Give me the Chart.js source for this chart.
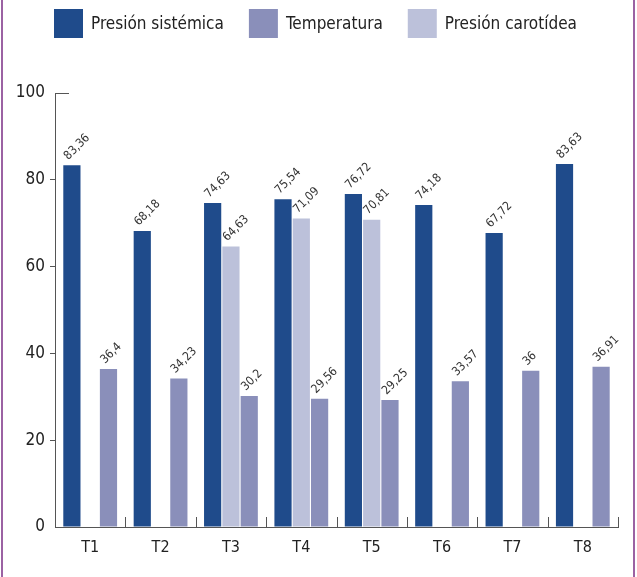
<!DOCTYPE html>
<html>
<head>
<meta charset="utf-8">
<script src="https://cdn.jsdelivr.net/npm/chart.js@4.4.1/dist/chart.umd.min.js"></script>
<style>
  html, body { margin: 0; padding: 0; background: #fff; }
  #wrap { width: 637px; height: 577px; position: relative; }
</style>
</head>
<body>
<div id="wrap"><canvas id="myChart" width="637" height="577"></canvas></div>
<script>
var categories = ['T1', 'T2', 'T3', 'T4', 'T5', 'T6', 'T7', 'T8'];
var presionSistemica = [83.36, 68.18, 74.63, 75.54, 76.72, 74.18, 67.72, 83.63];
var presionCarotidea = [null, null, 64.63, 71.09, 70.81, null, null, null];
var temperatura = [36.4, 34.23, 30.2, 29.56, 29.25, 33.57, 36, 36.91];
var yTicks = [0, 20, 40, 60, 80, 100];

var FONT = '"DejaVu Sans Condensed", "DejaVu Sans", sans-serif';
var colSist = '#1f4b8b';
var colTemp = '#8a8fba';
var colCaro = '#bcc1da';

// order of the legend differs from bar order inside a group
var legendOrder = [
    { text: 'Presión sistémica', color: colSist },
    { text: 'Temperatura', color: colTemp },
    { text: 'Presión carotídea', color: colCaro }
];

var extras = {
    id: 'extras',
    afterDraw: function(chart) {
        var ctx = chart.ctx;
        var area = chart.chartArea;
        var xs = chart.scales.x;
        ctx.save();

        // side frame lines
        ctx.fillStyle = '#9b62a3';
        ctx.fillRect(1, 0, 2, chart.height);
        ctx.fillRect(633, 0, 2, chart.height);

        // axis cap at top of y axis
        ctx.strokeStyle = '#555';
        ctx.lineWidth = 1;
        ctx.beginPath();
        ctx.moveTo(area.left, area.top + 0.5);
        ctx.lineTo(area.left + 14, area.top + 0.5);
        ctx.stroke();

        // category separator ticks pointing up
        ctx.beginPath();
        for (var i = 1; i <= categories.length; i++) {
            var px;
            if (i < categories.length) {
                px = (xs.getPixelForValue(i - 1) + xs.getPixelForValue(i)) / 2;
            } else {
                px = area.right;
            }
            px = Math.round(px) + 0.5;
            ctx.moveTo(px, area.bottom);
            ctx.lineTo(px, area.bottom - 10);
        }
        ctx.stroke();

        // value labels, rotated
        ctx.fillStyle = '#333';
        ctx.font = '12px ' + FONT;
        ctx.textAlign = 'left';
        ctx.textBaseline = 'alphabetic';
        chart.data.datasets.forEach(function(ds, di) {
            var meta = chart.getDatasetMeta(di);
            meta.data.forEach(function(bar, j) {
                var v = ds.data[j];
                if (v === null || v === undefined) return;
                var left = bar.x - bar.width / 2;
                ctx.save();
                ctx.translate(left + 5, bar.y - 5);
                ctx.rotate(-Math.PI / 4);
                ctx.fillText(String(v).replace('.', ','), 0, 0);
                ctx.restore();
            });
        });

        // legend
        ctx.font = '17px ' + FONT;
        ctx.fillStyle = '#222';
        var box = 29, gap = 8, between = 25;
        var total = 0;
        legendOrder.forEach(function(it, k) {
            total += box + gap + ctx.measureText(it.text).width;
            if (k > 0) total += between;
        });
        var x = Math.round(chart.width / 2 - total / 2) - 3;
        var y = 9;
        ctx.textBaseline = 'middle';
        legendOrder.forEach(function(it) {
            ctx.fillStyle = it.color;
            ctx.fillRect(x, y, box, box);
            ctx.fillStyle = '#222';
            ctx.fillText(it.text, x + box + gap, y + box / 2 + 1);
            x += box + gap + ctx.measureText(it.text).width + between;
        });
        ctx.restore();
    }
};

var ctx = document.getElementById('myChart');
var myChart = new Chart(ctx, {
    type: 'bar',
    data: {
        labels: categories,
        datasets: [
            { label: 'Presión sistémica', data: presionSistemica, backgroundColor: colSist },
            { label: 'Presión carotídea', data: presionCarotidea, backgroundColor: colCaro },
            { label: 'Temperatura', data: temperatura, backgroundColor: colTemp }
        ]
    },
    options: {
        responsive: false,
        animation: false,
        events: [],
        categoryPercentage: 0.78,
        barPercentage: 0.94,
        layout: { padding: { top: 93, right: 19, left: 0, bottom: 0 } },
        plugins: {
            legend: { display: false },
            tooltip: { enabled: false }
        },
        scales: {
            x: {
                grid: { display: false },
                border: { display: true, color: '#555', width: 1 },
                ticks: { color: '#222', font: { family: FONT, size: 16 }, padding: 3 },
                afterFit: function(scale) { scale.height = 50; }
            },
            y: {
                min: 0,
                max: 100,
                afterBuildTicks: function(scale) {
                    scale.ticks = yTicks.map(function(v) { return { value: v }; });
                },
                grid: {
                    display: true,
                    drawOnChartArea: false,
                    tickLength: 5,
                    color: function(c) {
                        var v = c.tick ? c.tick.value : null;
                        return (v === 0 || v === 100) ? 'rgba(0,0,0,0)' : '#555';
                    }
                },
                border: { display: true, color: '#555', width: 1 },
                ticks: { color: '#222', font: { family: FONT, size: 17 }, padding: 5 },
                afterFit: function(scale) { scale.width = 55; }
            }
        }
    },
    plugins: [extras]
});
</script>
</body>
</html>
